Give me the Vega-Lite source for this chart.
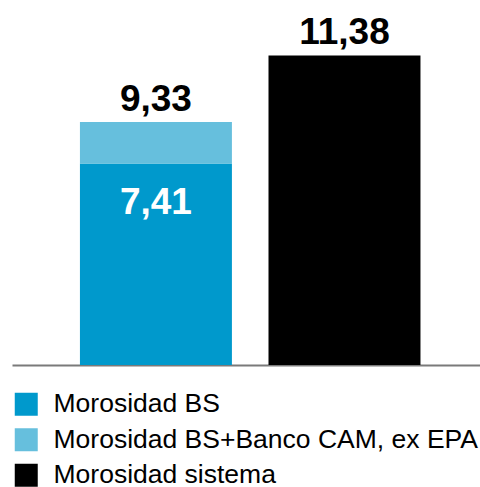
{
  "$schema": "https://vega.github.io/schema/vega-lite/v6.json",
  "width": 468,
  "height": 365,
  "autosize": {"type": "none"},
  "padding": {"left": 12, "top": 0, "right": 0, "bottom": 122},
  "config": {"view": {"stroke": null}, "font": "Liberation Sans"},
  "data": {
    "values": [
      {"bar": "A", "series": "Morosidad BS", "value": 7.41, "ord": 1, "label": "7,41"},
      {"bar": "A", "series": "Morosidad BS+Banco CAM, ex EPA", "value": 1.52, "ord": 2, "label": "9,33"},
      {"bar": "B", "series": "Morosidad sistema", "value": 11.38, "ord": 1, "label": "11,38"}
    ]
  },
  "encoding": {
    "x": {
      "field": "bar",
      "type": "nominal",
      "scale": {"paddingInner": 0.194, "paddingOuter": 0.338, "align": 0.533},
      "axis": {"title": null, "labels": false, "ticks": false, "domainColor": "#7a7a7a", "domainWidth": 2}
    }
  },
  "layer": [
    {
      "mark": {"type": "bar"},
      "encoding": {
        "y": {"field": "value", "type": "quantitative", "stack": "zero", "scale": {"domain": [0, 13.42], "nice": false}, "axis": null},
        "order": {"field": "ord"},
        "color": {
          "field": "series",
          "type": "nominal",
          "scale": {
            "domain": ["Morosidad BS", "Morosidad BS+Banco CAM, ex EPA", "Morosidad sistema"],
            "range": ["#0099cc", "#66bfdd", "#000000"]
          },
          "legend": {
            "orient": "none",
            "legendX": 1,
            "legendY": 391,
            "direction": "vertical",
            "title": null,
            "symbolType": "square",
            "symbolSize": 529,
            "symbolStrokeWidth": 0,
            "symbolOpacity": 1,
            "labelFontSize": 26.5,
            "labelColor": "#000000",
            "labelOffset": 14,
            "labelLimit": 0,
            "rowPadding": 8.5,
            "padding": 0
          }
        }
      }
    },
    {
      "transform": [
        {"joinaggregate": [{"op": "sum", "field": "value", "as": "top"}], "groupby": ["bar"]},
        {"filter": "datum.series !== 'Morosidad BS'"}
      ],
      "mark": {"type": "text", "fontWeight": "bold", "fontSize": 37, "baseline": "alphabetic", "dy": -11, "color": "#000000"},
      "encoding": {
        "y": {"field": "top", "type": "quantitative"},
        "text": {"field": "label"}
      }
    },
    {
      "transform": [{"filter": "datum.series === 'Morosidad BS'"}],
      "mark": {"type": "text", "fontWeight": "bold", "fontSize": 37, "baseline": "alphabetic", "dy": 51, "color": "#ffffff"},
      "encoding": {
        "y": {"field": "value", "type": "quantitative"},
        "text": {"field": "label"}
      }
    }
  ]
}
